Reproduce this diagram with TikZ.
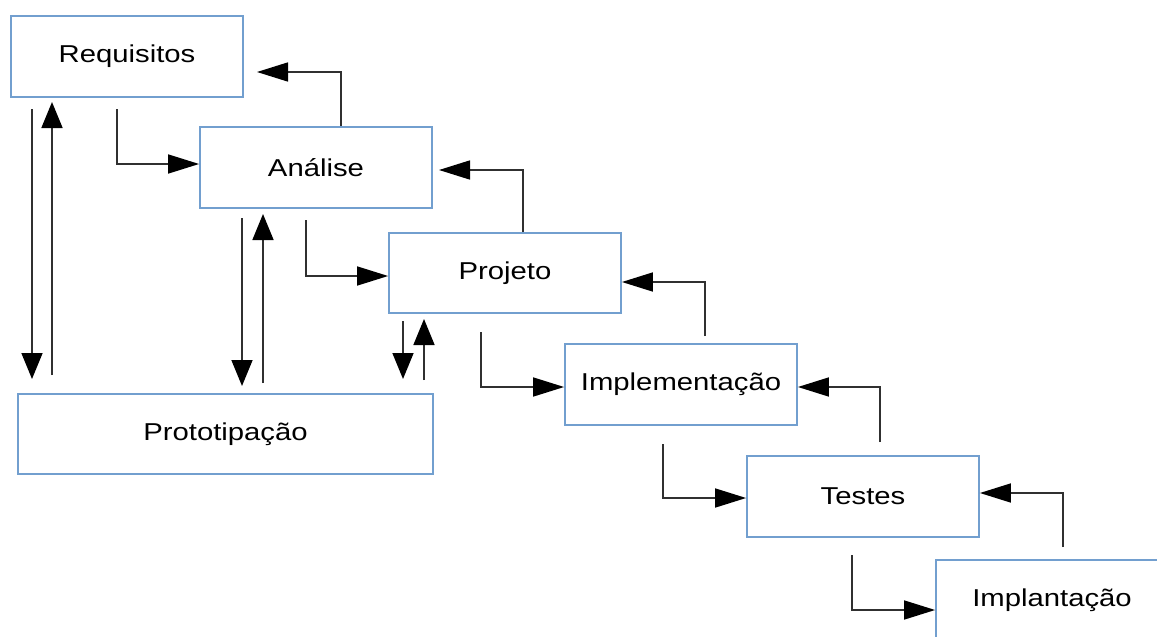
\documentclass[tikz,border=0pt]{standalone}
\usepackage{fontspec}
\setmainfont{Liberation Sans}[FakeStretch=1.2]
\usetikzlibrary{arrows.meta}
\definecolor{boxblue}{HTML}{729FCF}
\definecolor{linegray}{HTML}{303030}
\tikzset{
  stage/.style={draw=boxblue, line width=1.8pt, fill=white, rectangle,
    minimum width=232pt, minimum height=81pt, inner sep=0pt,
    font=\fontsize{24.4}{29}\selectfont},
  harr/.style={draw=linegray, line width=1.6pt,
    -{Triangle[length=31pt,width=19pt,color=black,fill=black]}},
  varr/.style={draw=linegray, line width=1.6pt,
    -{Triangle[length=26pt,width=21pt,color=black,fill=black]}},
}
\begin{document}
\begin{tikzpicture}[x=1pt,y=-1pt]
\clip (0,0) rectangle (1157,637);
\fill[white] (0,0) rectangle (1157,637);

% process stages
\node[stage] (req)   at (127,56.5)  {Requisitos};
\node[stage] (ana)   at (316,167.5) {Análise};
\node[stage, minimum height=80pt] (proj) at (505,273) {Projeto};
\node[stage] (impl)  at (681,384.5) {Implementação};
\node[stage] (tst)   at (863,496.5) {Testes};
\node[stage] (dep)   at (1052,600.5){Implantação};
\node[stage, minimum width=415pt, minimum height=80pt] (proto) at (225.5,434) {Prototipação};

% free ends of the connectors
\coordinate (a1) at (117,109);
\coordinate (a2) at (306,220);
\coordinate (a3) at (481,332);
\coordinate (a4) at (663,444);
\coordinate (a5) at (852,555);
\coordinate (f1) at (257,72);
\coordinate (f2) at (439,170);
\coordinate (p1s) at (32,109);  \coordinate (p1e) at (32,379);
\coordinate (p2s) at (52,375);  \coordinate (p2e) at (52,102);
\coordinate (p3s) at (242,218); \coordinate (p3e) at (242,386);
\coordinate (p4s) at (263,383); \coordinate (p4e) at (263,214);
\coordinate (p5s) at (403,321); \coordinate (p5e) at (403,379);
\coordinate (p6s) at (424,380); \coordinate (p6e) at (424,319);

% forward flow
\draw[harr] (a1) |- ([yshift=3.5pt]ana.west);
\draw[harr] (a2) |- ([yshift=-3pt]proj.west);
\draw[harr] (a3) |- ([yshift=-2.5pt]impl.west);
\draw[harr] (a4) |- ([yshift=-1.5pt]tst.west);
\draw[harr] (a5) |- ([yshift=-9.5pt]dep.west);

% feedback flow
\draw[harr] ([xshift=25pt]ana.north) |- (f1);
\draw[harr] ([xshift=18pt]proj.north) |- (f2);
\draw[harr] ([xshift=24pt,yshift=7pt]impl.north) |- ([yshift=-9pt]proj.east);
\draw[harr] ([xshift=17pt,yshift=13pt]tst.north) |- ([yshift=-2.5pt]impl.east);
\draw[harr] ([xshift=11pt,yshift=12pt]dep.north) |- ([yshift=3.5pt]tst.east);

% prototyping loops
\draw[varr] (p1s) -- (p1e);
\draw[varr] (p2s) -- (p2e);
\draw[varr] (p3s) -- (p3e);
\draw[varr] (p4s) -- (p4e);
\draw[varr] (p5s) -- (p5e);
\draw[varr] (p6s) -- (p6e);
\end{tikzpicture}
\end{document}
